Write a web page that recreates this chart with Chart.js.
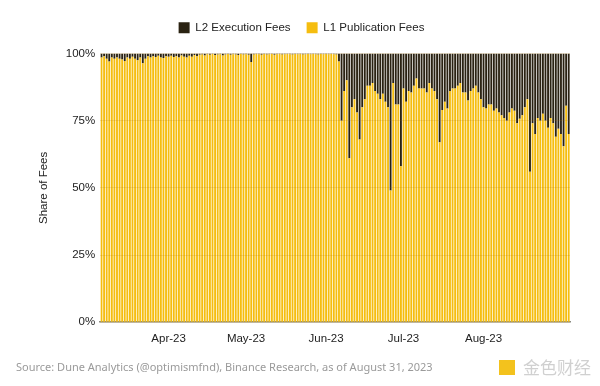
<!DOCTYPE html>
<html>
<head>
<meta charset="utf-8">
<script src="https://cdn.jsdelivr.net/npm/chart.js@4.4.0/dist/chart.umd.min.js"></script>
<style>
  body { margin: 0; background: #fff; }
  .wrap { position: relative; width: 600px; height: 386px; }
  .source { position: absolute; left: 16px; top: 359px; font-family: "Noto Sans", sans-serif; font-size: 11px; color: #9a9a9a; }
  .logo { position: absolute; left: 499px; top: 354px; font-family: "Noto Sans CJK SC", sans-serif; font-size: 17px; color: #d0d0d0; }
  .logo span { display: inline-block; width: 16px; height: 15px; background: #f3c21d; margin-right: 8px; vertical-align: -1px; }
</style>
</head>
<body>
<div class="wrap">
  <canvas id="feeChart" width="600" height="386"></canvas>
  <div class="source">Source: Dune Analytics (@optimismfnd), Binance Research, as of August 31, 2023</div>
  <div class="logo"><span></span>金色财经</div>
</div>
<script>
// daily bars, first day of the series
const start_date = new Date(2023, 2, 6);
const series_names = ['L1 Publication Fees', 'L2 Execution Fees'];
const month_names = ['Jan', 'Feb', 'Mar', 'Apr', 'May', 'Jun', 'Jul', 'Aug', 'Sep', 'Oct', 'Nov', 'Dec'];
// months that get a label on the x axis (Apr .. Aug)
const labelled_months = [3, 4, 5, 6, 7];

// share of L1 publication fees (%)
const l1_share = [
    98.5, 99, 98, 97, 98.5, 98, 98.5, 98, 97.8, 97.2,
    98.5, 98, 98.8, 98, 97.5, 98.5, 96.4, 98, 99, 98.5,
    99, 98.7, 99.2, 98.5, 98.3, 99, 98.8, 99.2, 98.7, 99,
    98.5, 99.3, 98.8, 98.5, 99.2, 98.8, 99.4, 99, 99.5, 99.6,
    99.3, 99.7, 99.5, 99.8, 99.4, 99.6, 99.7, 99.3, 99.6, 99.8,
    99.5, 99.7, 99.6, 99.4, 99.8, 99.6, 99.7, 99.5, 96.8, 99.6,
    99.8, 99.7, 99.5, 99.8, 99.6, 99.7, 99.8, 99.5, 99.7, 99.8,
    99.6, 99.7, 99.8, 99.7, 99.6, 99.8, 99.7, 99.8, 99.6, 99.7,
    99.8, 99.7, 99.8, 99.7, 99.6, 99.8, 99.7, 99.8, 99.7, 99.8,
    99.7, 99.6,
    // bedrock onwards
    97, 75, 86, 90, 61, 80, 83, 78, 68, 80,
    83, 88, 88, 89, 86, 85, 83, 85, 82, 80,
    49, 89, 81, 81, 58, 87, 82, 86, 85.5, 88,
    90.7, 87, 87, 87, 85.5, 89, 87, 86, 83, 67,
    79, 82, 79.5, 86, 87, 87, 88, 89, 85.5, 85.5,
    82.5, 86, 87, 88, 85.5, 83, 80, 79.5, 81, 81,
    78.7, 79.5, 78, 77, 76, 75, 78, 79.5, 78.7, 74,
    75.7, 77, 80, 83, 56, 74, 70, 76, 75, 77.6,
    75, 72.4, 76, 74, 69, 72, 70, 65.5, 80.6, 70
];

const l2_share = l1_share.map(v => +(100 - v).toFixed(1));

let day_labels = [];
for (let i = 0; i < l1_share.length; i++) {
    let d = new Date(start_date);
    d.setDate(d.getDate() + i);
    day_labels.push(d);
}

const y_ticks = [0, 25, 50, 75, 100];

// extra space under the legend
const legend_gap = {
    id: 'legend_gap',
    beforeInit(chart) {
        const fit = chart.legend.fit;
        chart.legend.fit = function () {
            fit.bind(chart.legend)();
            this.height += 10;
        };
    }
};

let ctx = document.querySelector('#feeChart').getContext('2d');

new Chart(ctx, {
    type: 'bar',
    data: {
        labels: day_labels,
        datasets: [
            {
                label: series_names[0],
                data: l1_share,
                backgroundColor: '#f5bd0f',
                barPercentage: 0.72,
                categoryPercentage: 1.0
            },
            {
                label: series_names[1],
                data: l2_share,
                backgroundColor: '#2a2212',
                barPercentage: 0.72,
                categoryPercentage: 1.0
            }
        ]
    },
    plugins: [legend_gap],
    options: {
        responsive: false,
        animation: false,
        layout: {
            padding: { left: 33, right: 30, top: 6, bottom: 38 }
        },
        plugins: {
            legend: {
                position: 'top',
                reverse: true,
                labels: {
                    boxWidth: 11,
                    boxHeight: 11,
                    padding: 16,
                    color: '#222',
                    font: { family: 'Liberation Sans', size: 11.5 }
                }
            },
            tooltip: { enabled: false }
        },
        scales: {
            x: {
                stacked: true,
                grid: { display: false },
                border: { display: true, color: '#8a8a80', width: 1.5 },
                ticks: {
                    autoSkip: false,
                    maxRotation: 0,
                    padding: 2,
                    color: '#222',
                    font: { family: 'Liberation Sans', size: 11.5 },
                    callback: function (value) {
                        let d = day_labels[value];
                        if (d.getDate() === 1 && labelled_months.includes(d.getMonth())) {
                            return month_names[d.getMonth()] + '-' + String(d.getFullYear()).slice(2);
                        }
                        return '';
                    }
                }
            },
            y: {
                stacked: true,
                min: 0,
                max: 100,
                afterBuildTicks: function (axis) {
                    axis.ticks = y_ticks.map(v => ({ value: v }));
                },
                grid: { color: 'rgba(170, 110, 0, 0.16)', z: 1, drawTicks: false },
                border: { display: false },
                title: {
                    display: true,
                    text: 'Share of Fees',
                    color: '#222',
                    padding: { bottom: 10 },
                    font: { family: 'Liberation Sans', size: 11.5 }
                },
                ticks: {
                    padding: 5,
                    color: '#222',
                    font: { family: 'Liberation Sans', size: 11.5 },
                    callback: v => v + '%'
                }
            }
        }
    }
});
</script>
</body>
</html>
